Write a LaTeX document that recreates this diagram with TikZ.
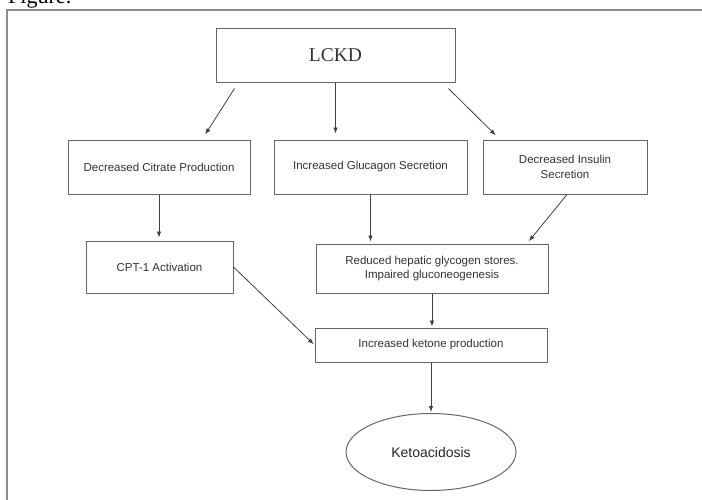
\documentclass[tikz,border=0pt]{standalone}
\usepackage{fontspec}
\setmainfont{Liberation Serif}
\setsansfont{Liberation Sans}
\usetikzlibrary{arrows.meta,shapes.geometric}
\begin{document}
\begin{tikzpicture}[x=1pt, y=-1pt, >={Latex[length=6pt,width=4.5pt]},
  box/.style={draw=black!60, line width=1pt, minimum width=#1, inner sep=2pt,
    align=center, text=black!80, font=\sffamily\fontsize{11.5}{14.5}\selectfont},
  arr/.style={->, draw=black!75, line width=.8pt, shorten >=#1},
  arr/.default=4pt]
   %Rahmen
   \useasboundingbox[fill=white] (0,0) rectangle (702,499);
   \draw[black!45, line width=1.5pt] (7,530) -- (7,10) -- (720,10);
   \node[anchor=base west, font=\fontsize{22}{24}\selectfont, inner sep=0pt] (fig) at (8,3) {Figure:};

%Kaesten
\node[box=239pt, minimum height=54pt, font=\fontsize{19.5}{22}\selectfont] (lckd) at (335.5,55) {LCKD};

\node[box=182pt, minimum height=54pt] (citrate) at (159,167) {Decreased Citrate Production};
\node[box=193pt, minimum height=54pt] (glucagon) at (370.5,167) {Increased Glucagon Secretion};
\node[box=164pt, minimum height=54pt] (insulin) at (565,167) {Decreased Insulin\\Secretion};

\node[box=147pt, minimum height=52pt] (cpt) at (159.5,267) {CPT-1 Activation};
\node[box=232pt, minimum height=49pt] (reduced) at (432,268.5) {Reduced hepatic glycogen stores.\\Impaired gluconeogenesis};

\node[box=232pt, minimum height=34pt] (ketone) at (431,345) {Increased ketone production};
\node[draw=black!60, line width=1pt, ellipse, minimum width=170pt, minimum height=77pt,
  inner sep=0pt, text=black!85, font=\sffamily\fontsize{14}{16}\selectfont] (keto) at (431,452) {Ketoacidosis};

%Pfeile
\draw[arr=6pt] ([xshift=-101pt,yshift=-6pt]lckd.south) -- ([xshift=43pt]citrate.north);
\draw[arr=6pt] (lckd.south) -- (lckd.south |- glucagon.north);
\draw[arr=6pt] ([xshift=113pt,yshift=-6pt]lckd.south) -- ([xshift=-65pt]insulin.north);
\draw[arr=3pt] (citrate.south) -- (citrate.south |- cpt.north);
\draw[arr=2pt] (glucagon.south) -- (glucagon.south |- reduced.north);
\draw[arr=3pt] ([xshift=2pt]insulin.south) -- ([xshift=95pt]reduced.north);
\draw[arr=1pt] (cpt.east) -- (ketone.west);
\draw[arr=1pt] (reduced.south) -- (reduced.south |- ketone.north);
\draw[arr=1pt] (ketone.south) -- (keto.north);
\end{tikzpicture}
\end{document}
